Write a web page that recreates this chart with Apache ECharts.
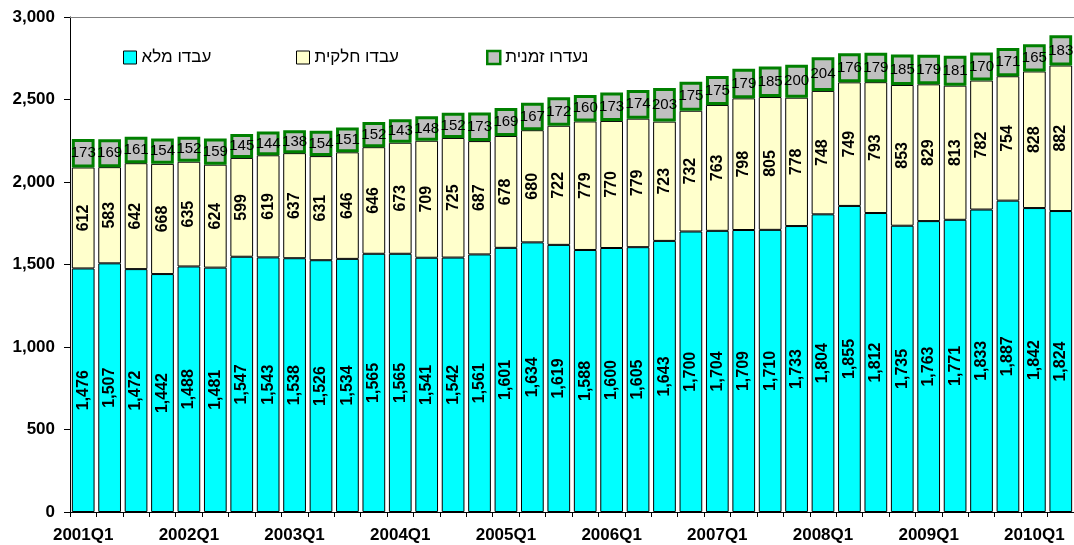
<!DOCTYPE html>
<html>
<head>
<meta charset="utf-8">
<script src="https://cdn.jsdelivr.net/npm/echarts@6/dist/echarts.min.js"></script>
<style>
  html, body { margin: 0; padding: 0; background: #fff; }
  #chart { width: 1074px; height: 545px; }
</style>
</head>
<body>
<div id="chart"></div>
<script>
// רבעונים
const quarters = [
  '2001Q1', '2001Q2', '2001Q3', '2001Q4',
  '2002Q1', '2002Q2', '2002Q3', '2002Q4',
  '2003Q1', '2003Q2', '2003Q3', '2003Q4',
  '2004Q1', '2004Q2', '2004Q3', '2004Q4',
  '2005Q1', '2005Q2', '2005Q3', '2005Q4',
  '2006Q1', '2006Q2', '2006Q3', '2006Q4',
  '2007Q1', '2007Q2', '2007Q3', '2007Q4',
  '2008Q1', '2008Q2', '2008Q3', '2008Q4',
  '2009Q1', '2009Q2', '2009Q3', '2009Q4',
  '2010Q1', '2010Q2'
];

// עבדו מלא
const fullTime = [
  1476, 1507, 1472, 1442, 1488, 1481, 1547, 1543, 1538, 1526,
  1534, 1565, 1565, 1541, 1542, 1561, 1601, 1634, 1619, 1588,
  1600, 1605, 1643, 1700, 1704, 1709, 1710, 1733, 1804, 1855,
  1812, 1735, 1763, 1771, 1833, 1887, 1842, 1824
];

// עבדו חלקית
const partTime = [
  612, 583, 642, 668, 635, 624, 599, 619, 637, 631,
  646, 646, 673, 709, 725, 687, 678, 680, 722, 779,
  770, 779, 723, 732, 763, 798, 805, 778, 748, 749,
  793, 853, 829, 813, 782, 754, 828, 882
];

// נעדרו זמנית
const absent = [
  173, 169, 161, 154, 152, 159, 145, 144, 138, 154,
  151, 152, 143, 148, 152, 173, 169, 167, 172, 160,
  173, 174, 203, 175, 175, 179, 185, 200, 204, 176,
  179, 185, 179, 181, 170, 171, 165, 183
];

const yTicks = { min: 0, max: 3000, step: 500 };

const FONT = 'Arial, "Liberation Sans", sans-serif';
const fmt = v => Number(v).toLocaleString('en-US');

const names = ['עבדו מלא', 'עבדו חלקית', 'נעדרו זמנית'];
const fills = ['#00ffff', '#ffffcc', '#c0c0c0'];
const borders = ['#000', '#000', '#008000'];

// מקרא - כל פריט במקום משלו
const legendLeft = [118, 291, 481];
const legends = names.map((n, i) => ({
  left: legendLeft[i],
  top: 44,
  itemWidth: 13,
  itemHeight: 13,
  icon: 'rect',
  selectedMode: false,
  textStyle: { fontSize: 17, color: '#000', fontFamily: FONT },
  data: [{ name: n, itemStyle: { color: fills[i], borderColor: borders[i], borderWidth: i === 2 ? 2.5 : 1 } }]
}));

const option = {
  animation: false,
  textStyle: { fontFamily: FONT },
  grid: { left: 70, right: -9, top: 17, bottom: 33, containLabel: false },
  legend: legends,
  xAxis: [
    {
      type: 'category',
      data: quarters,
      axisLine: { lineStyle: { color: '#000', width: 1 } },
      axisTick: { show: true, interval: 0, length: 5, lineStyle: { color: '#000' } },
      axisLabel: {
        interval: 3,
        margin: 15,
        fontSize: 17,
        fontWeight: 'bold',
        color: '#000'
      }
    },
    {
      // קו עליון של אזור השרטוט
      type: 'category',
      position: 'top',
      data: quarters,
      axisLine: { show: true, lineStyle: { color: '#808080', width: 1 } },
      axisTick: { show: false },
      axisLabel: { show: false }
    }
  ],
  yAxis: {
    type: 'value',
    min: yTicks.min,
    max: yTicks.max,
    interval: yTicks.step,
    axisLine: { show: true, lineStyle: { color: '#000' } },
    axisTick: { show: true, length: 6, lineStyle: { color: '#000' } },
    splitLine: { show: false },
    axisLabel: {
      margin: 15,
      fontSize: 17,
      fontWeight: 'bold',
      color: '#000',
      formatter: v => fmt(v)
    }
  },
  series: [
    {
      name: names[0],
      type: 'bar',
      stack: 'total',
      barCategoryGap: '14%',
      data: fullTime,
      itemStyle: { color: fills[0], borderColor: borders[0], borderWidth: 1 },
      label: {
        show: true,
        position: 'inside',
        rotate: 90,
        fontSize: 16,
        fontWeight: 'bold',
        color: '#000',
        formatter: p => fmt(p.value)
      }
    },
    {
      name: names[1],
      type: 'bar',
      stack: 'total',
      data: partTime,
      itemStyle: { color: fills[1], borderColor: borders[1], borderWidth: 1 },
      label: {
        show: true,
        position: 'inside',
        rotate: 90,
        fontSize: 16,
        fontWeight: 'bold',
        color: '#000'
      }
    },
    {
      name: names[2],
      type: 'bar',
      stack: 'total',
      data: absent,
      itemStyle: { color: fills[2], borderColor: borders[2], borderWidth: 3 },
      label: {
        show: true,
        position: 'inside',
        fontSize: 15,
        color: '#000'
      }
    }
  ]
};

const chart = echarts.init(document.getElementById('chart'));
chart.setOption(option);
</script>
</body>
</html>
